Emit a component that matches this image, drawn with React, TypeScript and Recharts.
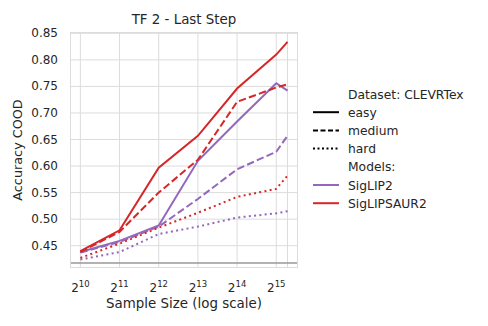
import { LineChart, Line, XAxis, YAxis, CartesianGrid, ReferenceLine } from 'recharts';

// sample sizes (x axis is log2 of these)
const sampleSizes = [1024, 2048, 4096, 8192, 16384, 32768, 40000];
const xTicks = [10, 11, 12, 13, 14, 15, Math.log2(40000)];
const yTicks = [0.45, 0.5, 0.55, 0.6, 0.65, 0.7, 0.75, 0.8, 0.85];

const siglipEasy = [0.438, 0.459, 0.488, 0.61, 0.684, 0.756, 0.742];
const siglipMedium = [0.437, 0.457, 0.486, 0.538, 0.594, 0.627, 0.657];
const siglipHard = [0.424, 0.438, 0.472, 0.486, 0.503, 0.511, 0.515];
const saurEasy = [0.44, 0.479, 0.597, 0.657, 0.746, 0.81, 0.834];
const saurMedium = [0.438, 0.476, 0.55, 0.612, 0.721, 0.748, 0.754];
const saurHard = [0.427, 0.454, 0.484, 0.512, 0.542, 0.557, 0.582];

const chanceLevel = 0.4174;

const PURPLE = '#9467bd';
const RED = '#d62728';
const TEXT = '#262626';
const FONT = 'DejaVu Sans, sans-serif';

const data = sampleSizes.map((n, i) => ({
  x: Math.log2(n),
  siglipEasy: siglipEasy[i],
  siglipMedium: siglipMedium[i],
  siglipHard: siglipHard[i],
  saurEasy: saurEasy[i],
  saurMedium: saurMedium[i],
  saurHard: saurHard[i],
}));

const XTick = ({ x, y, payload }: any) => {
  const v = payload.value;
  if (!Number.isInteger(v)) return null;
  return (
    <text x={x} y={y + 16} textAnchor="middle" fill={TEXT} fontSize={12} fontFamily={FONT}>
      2<tspan fontSize={8.5} dy={-5}>{v}</tspan>
    </text>
  );
};

const YTick = ({ x, y, payload }: any) => (
  <text x={x} y={y + 4} textAnchor="end" fill={TEXT} fontSize={12} fontFamily={FONT}>
    {payload.value.toFixed(2)}
  </text>
);

const legendRows: { label: string; color?: string; dash?: string; header?: boolean }[] = [
  { label: 'Dataset: CLEVRTex', header: true },
  { label: 'easy', color: '#000' },
  { label: 'medium', color: '#000', dash: '5 2.5' },
  { label: 'hard', color: '#000', dash: '2 2.5' },
  { label: 'Models:', header: true },
  { label: 'SigLIP2', color: PURPLE },
  { label: 'SigLIPSAUR2', color: RED },
];

export default function App() {
  return (
    <div style={{ position: 'relative', width: 488, height: 326, background: '#fff' }}>
      <style>{`body{margin:0}`}</style>
      <div style={{ position: 'absolute', left: 0, top: 0 }}>
        <LineChart width={488} height={326} data={data} margin={{ top: 32, right: 190, bottom: 0, left: 0 }}>
          <CartesianGrid stroke="#dcdcdc" strokeWidth={1} horizontalValues={yTicks} verticalValues={xTicks} />
          <XAxis
            dataKey="x"
            type="number"
            domain={[9.735, 15.555]}
            ticks={xTicks}
            interval={0}
            allowDataOverflow
            height={58}
            axisLine={false}
            tickLine={false}
            tick={<XTick />}
            label={{ value: 'Sample Size (log scale)', position: 'insideBottom', offset: 18, fill: TEXT, fontSize: 13.4, fontFamily: FONT }}
          />
          <YAxis
            type="number"
            domain={[0.408, 0.8525]}
            ticks={yTicks}
            interval={0}
            allowDataOverflow
            width={70}
            axisLine={false}
            tickLine={false}
            tickSize={6}
            tickMargin={6}
            tick={<YTick />}
            label={{ value: 'Accuracy COOD', angle: -90, position: 'insideLeft', offset: 17, fill: TEXT, fontSize: 12.8, fontFamily: FONT, style: { textAnchor: 'middle' } }}
          />
          <ReferenceLine y={chanceLevel} stroke="#999" strokeWidth={1.6} />
          <Line dataKey="siglipHard" stroke={PURPLE} strokeWidth={2} strokeDasharray="2 3.3" dot={false} isAnimationActive={false} />
          <Line dataKey="siglipMedium" stroke={PURPLE} strokeWidth={2} strokeDasharray="7.4 3.2" dot={false} isAnimationActive={false} />
          <Line dataKey="siglipEasy" stroke={PURPLE} strokeWidth={2} dot={false} isAnimationActive={false} />
          <Line dataKey="saurHard" stroke={RED} strokeWidth={2} strokeDasharray="2 3.3" dot={false} isAnimationActive={false} />
          <Line dataKey="saurMedium" stroke={RED} strokeWidth={2} strokeDasharray="7.4 3.2" dot={false} isAnimationActive={false} />
          <Line dataKey="saurEasy" stroke={RED} strokeWidth={2} dot={false} isAnimationActive={false} />
        </LineChart>
      </div>
      {/* plot frame */}
      <div style={{ position: 'absolute', left: 70, top: 32, width: 228, height: 236, border: '1px solid #dcdcdc', boxSizing: 'border-box', pointerEvents: 'none' }} />
      <div style={{ position: 'absolute', left: 70, width: 228, top: 12, textAlign: 'center', fontFamily: FONT, fontSize: 13.4, color: TEXT }}>
        TF 2 - Last Step
      </div>
      <svg style={{ position: 'absolute', left: 305, top: 84 }} width={183} height={132}>
        {legendRows.map((r, i) => {
          const cy = 10 + i * 18.2;
          return (
            <g key={r.label}>
              {!r.header && (
                <line x1={8} x2={34} y1={cy} y2={cy} stroke={r.color} strokeWidth={2} strokeDasharray={r.dash} />
              )}
              <text x={43} y={cy + 4.5} fill={TEXT} fontSize={12.3} fontFamily={FONT}>
                {r.label}
              </text>
            </g>
          );
        })}
      </svg>
    </div>
  );
}
